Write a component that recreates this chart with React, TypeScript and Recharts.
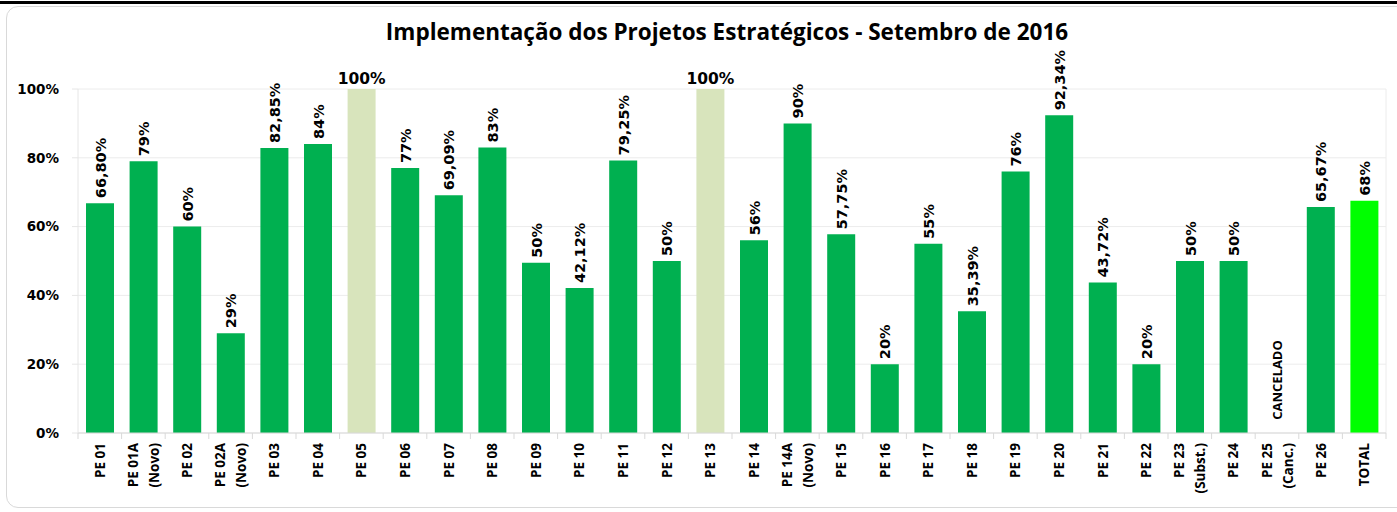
import React from 'react';
import { BarChart, Bar, XAxis, YAxis, CartesianGrid, Cell, LabelList } from 'recharts';

const categories = [
  'PE 01', 'PE 01A\n(Novo)', 'PE 02', 'PE 02A\n(Novo)', 'PE 03', 'PE 04', 'PE 05', 'PE 06', 'PE 07', 'PE 08',
  'PE 09', 'PE 10', 'PE 11', 'PE 12', 'PE 13', 'PE 14', 'PE 14A\n(Novo)', 'PE 15', 'PE 16', 'PE 17',
  'PE 18', 'PE 19', 'PE 20', 'PE 21', 'PE 22', 'PE 23\n(Subst.)', 'PE 24', 'PE 25\n(Canc.)', 'PE 26', 'TOTAL',
];

const implementation = [
  66.8, 79, 60, 29, 82.85, 84, 100, 77, 69.09, 83,
  49.5, 42.12, 79.25, 50, 100, 56, 90, 57.75, 20, 55,
  35.39, 76, 92.34, 43.72, 20, 50, 50, 0, 65.67, 67.5,
];

const valueLabels = [
  '66,80%', '79%', '60%', '29%', '82,85%', '84%', '100%', '77%', '69,09%', '83%',
  '50%', '42,12%', '79,25%', '50%', '100%', '56%', '90%', '57,75%', '20%', '55%',
  '35,39%', '76%', '92,34%', '43,72%', '20%', '50%', '50%', 'CANCELADO', '65,67%', '68%',
];

const yTicks = [0, 20, 40, 60, 80, 100];

const title = 'Implementação dos Projetos Estratégicos - Setembro de 2016';

const W = 1397;
const H = 512;
const MARGIN = { top: 89, right: 11, left: 0, bottom: 0 };
const Y_W = 78;
const HALF_BAND = (W - Y_W - MARGIN.right) / categories.length / 2;

const data = categories.map((name, i) => ({
  name,
  value: implementation[i],
  label: valueLabels[i],
}));

const WIDE = "'DejaVu Sans', sans-serif";
const OPEN = "'Open Sans', sans-serif";

const isPercent = (s: string) => s.endsWith('%');

const barColor = (i: number) => {
  if (categories[i] === 'TOTAL') return '#00FF00';
  if (implementation[i] >= 100) return '#D8E4BC';
  return '#00B050';
};

// category labels, Excel-style tick marks between categories, and the
// "CANCELADO" note for a project without a bar
const CategoryTick = (props: any) => {
  const { x, y, payload, index } = props;
  const lines = String(payload.value).split('\n');
  const lineGap = 21;
  const start = -((lines.length - 1) * lineGap) / 2;
  const note = valueLabels[index];
  return (
    <g>
      <line x1={x - HALF_BAND} x2={x - HALF_BAND} y1={y} y2={y + 6} stroke="#d9d9d9" />
      {index === categories.length - 1 && (
        <line x1={x + HALF_BAND} x2={x + HALF_BAND} y1={y} y2={y + 6} stroke="#d9d9d9" />
      )}
      {note && !isPercent(note) && (
        <text
          transform={`translate(${x + 5},${y - 53}) rotate(-90)`}
          textAnchor="middle"
          fontFamily={OPEN}
          fontWeight="bold"
          fontSize={13}
          fill="#000"
        >
          {note}
        </text>
      )}
      <g transform={`translate(${x},${y + 10})`}>
        {lines.map((l, k) => (
          <text
            key={k}
            transform="rotate(-90)"
            x={0}
            y={start + k * lineGap + 5}
            textAnchor="end"
            fontFamily={OPEN}
            fontWeight="bold"
            fontSize={13.5}
            fill="#000"
          >
            {l}
          </text>
        ))}
      </g>
    </g>
  );
};

const renderLabel = (props: any) => {
  const { x, y, width, value } = props;
  if (!isPercent(String(value))) return null;
  const cx = x + width / 2;
  if (value === '100%') {
    return (
      <text x={cx} y={y - 5} textAnchor="middle" fontFamily={WIDE} fontWeight="bold" fontSize={15.5} fill="#000">
        {value}
      </text>
    );
  }
  return (
    <text
      transform={`translate(${cx + 5.5},${y - 5}) rotate(-90)`}
      textAnchor="start"
      fontFamily={WIDE}
      fontWeight="bold"
      fontSize={14.5}
      fill="#000"
    >
      {value}
    </text>
  );
};

export default function App() {
  return (
    <div style={{ position: 'absolute', left: 0, top: 0, width: W, height: H, background: '#fff', overflow: 'hidden' }}>
      <div style={{ position: 'absolute', left: 0, top: 1, width: W, height: 3, background: '#000' }} />
      <div
        style={{
          position: 'absolute',
          left: 6,
          top: 6,
          width: W + 20,
          height: 502,
          border: '1px solid #d9d9d9',
          borderRadius: 12,
          boxSizing: 'border-box',
        }}
      />
      <div
        style={{
          position: 'absolute',
          left: 727,
          top: 17,
          transform: 'translateX(-50%)',
          whiteSpace: 'nowrap',
          fontFamily: OPEN,
          fontWeight: 'bold',
          fontSize: 22.5,
          lineHeight: '30px',
          color: '#000',
        }}
      >
        {title}
      </div>
      <div style={{ position: 'absolute', left: 0, top: 0 }}>
        <BarChart width={W} height={H} data={data} margin={MARGIN}>
          <CartesianGrid
            stroke="#ececec"
            vertical
            verticalCoordinatesGenerator={({ offset }: any) => [offset.left + offset.width]}
          />
          <XAxis
            dataKey="name"
            interval={0}
            height={79}
            tickSize={0}
            tickMargin={0}
            tickLine={false}
            axisLine={{ stroke: '#d9d9d9' }}
            tick={<CategoryTick />}
          />
          <YAxis
            width={Y_W}
            domain={[0, 100]}
            ticks={yTicks}
            tickFormatter={(v: number) => `${v}%`}
            axisLine={{ stroke: '#e6e6e6' }}
            tickLine={{ stroke: '#e6e6e6' }}
            tickSize={6}
            tickMargin={13}
            tick={{ fontFamily: WIDE, fontWeight: 'bold', fontSize: 13.5, fill: '#000' }}
          />
          <Bar dataKey="value" barSize={28} isAnimationActive={false}>
            {data.map((d, i) => (
              <Cell key={d.name} fill={barColor(i)} />
            ))}
            <LabelList dataKey="label" content={renderLabel} />
          </Bar>
        </BarChart>
      </div>
    </div>
  );
}
